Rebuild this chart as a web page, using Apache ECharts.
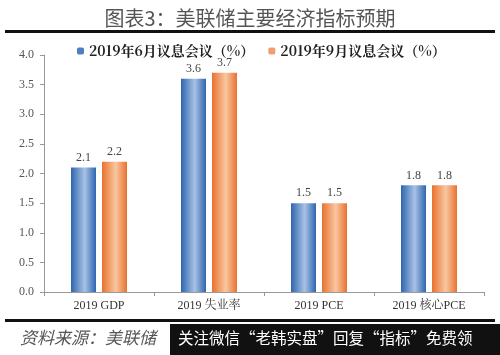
<!DOCTYPE html>
<html>
<head>
<meta charset="utf-8">
<script src="https://cdn.jsdelivr.net/npm/echarts@6/dist/echarts.min.js"></script>
<style>
  html, body { margin: 0; padding: 0; background: #fff; }
  #main { width: 500px; height: 355px; }
</style>
</head>
<body>
<div id="main"></div>
<script>
var categories = ['2019 GDP', '2019 失业率', '2019 PCE', '2019 核心PCE'];
var juneValues = [2.1, 3.6, 1.5, 1.8];
var septValues = [2.2, 3.7, 1.5, 1.8];
var seriesNames = ['2019年6月议息会议（%）', '2019年9月议息会议（%）'];

function barGrad(edge, mid) {
    return new echarts.graphic.LinearGradient(0, 0, 1, 0, [
        {offset: 0, color: edge},
        {offset: 0.55, color: mid},
        {offset: 1, color: edge}
    ]);
}

var chart = echarts.init(document.getElementById('main'));

var option = {
    backgroundColor: '#fff',
    animation: false,
    title: {
        text: '图表3：美联储主要经济指标预期',
        left: 'center',
        top: 3,
        textStyle: {
            fontFamily: 'Noto Sans CJK SC',
            fontWeight: 'normal',
            fontSize: 20,
            color: '#555'
        }
    },
    legend: {
        top: 39,
        left: 72,
        itemWidth: 7,
        itemHeight: 7,
        itemGap: 14,
        textStyle: {
            fontFamily: 'Noto Serif CJK SC, Liberation Serif, serif',
            fontWeight: 'bold',
            fontSize: 14,
            color: '#222'
        },
        data: [
            {name: seriesNames[0], itemStyle: {color: '#4f7fc0'}},
            {name: seriesNames[1], itemStyle: {color: '#f0a070'}}
        ]
    },
    grid: {
        left: 44,
        right: 16,
        top: 55,
        bottom: 63
    },
    xAxis: {
        type: 'category',
        data: categories,
        axisLine: {lineStyle: {color: '#999'}},
        axisTick: {show: true, length: 4, lineStyle: {color: '#999'}},
        axisLabel: {
            fontFamily: 'Liberation Serif, Noto Serif CJK SC, serif',
            fontSize: 12,
            color: '#333',
            margin: 8
        }
    },
    yAxis: {
        type: 'value',
        min: 0,
        max: 4,
        interval: 0.5,
        splitLine: {show: false},
        axisLine: {show: true, lineStyle: {color: '#999'}},
        axisTick: {show: true, length: 4, lineStyle: {color: '#999'}},
        axisLabel: {
            formatter: function (v) { return v.toFixed(1); },
            fontFamily: 'Liberation Serif, serif',
            fontSize: 12,
            color: '#555',
            margin: 10
        }
    },
    series: [
        {
            name: seriesNames[0],
            type: 'bar',
            data: juneValues,
            barWidth: 25,
            barGap: '24%',
            itemStyle: {color: barGrad('#2f66b0', '#a8c2e4')},
            label: {
                show: true,
                position: 'top',
                distance: 4,
                fontFamily: 'Liberation Serif, serif',
                fontSize: 12,
                color: '#444',
                formatter: function (p) { return p.value.toFixed(1); }
            }
        },
        {
            name: seriesNames[1],
            type: 'bar',
            data: septValues,
            barWidth: 25,
            itemStyle: {color: barGrad('#e8722f', '#f9c7a0')},
            label: {
                show: true,
                position: 'top',
                distance: 4,
                fontFamily: 'Liberation Serif, serif',
                fontSize: 12,
                color: '#444',
                formatter: function (p) { return p.value.toFixed(1); }
            }
        }
    ],
    graphic: [
        {type: 'rect', shape: {x: 5, y: 30, width: 490, height: 3}, style: {fill: '#111'}},
        {type: 'rect', shape: {x: 5, y: 319, width: 490, height: 3}, style: {fill: '#111'}},
        {
            type: 'text', left: 20, top: 329,
            style: {
                text: '资料来源：美联储',
                font: 'italic 17px "Noto Sans CJK SC"',
                fill: '#555'
            }
        },
        {type: 'rect', shape: {x: 170, y: 324, width: 330, height: 31}, style: {fill: '#111'}},
        {
            type: 'text', left: 178, top: 330,
            style: {
                text: '关注微信“老韩实盘”回复“指标”免费领',
                font: '15.5px "Noto Sans CJK SC"',
                fill: '#fff'
            }
        }
    ]
};

chart.setOption(option);
</script>
</body>
</html>
